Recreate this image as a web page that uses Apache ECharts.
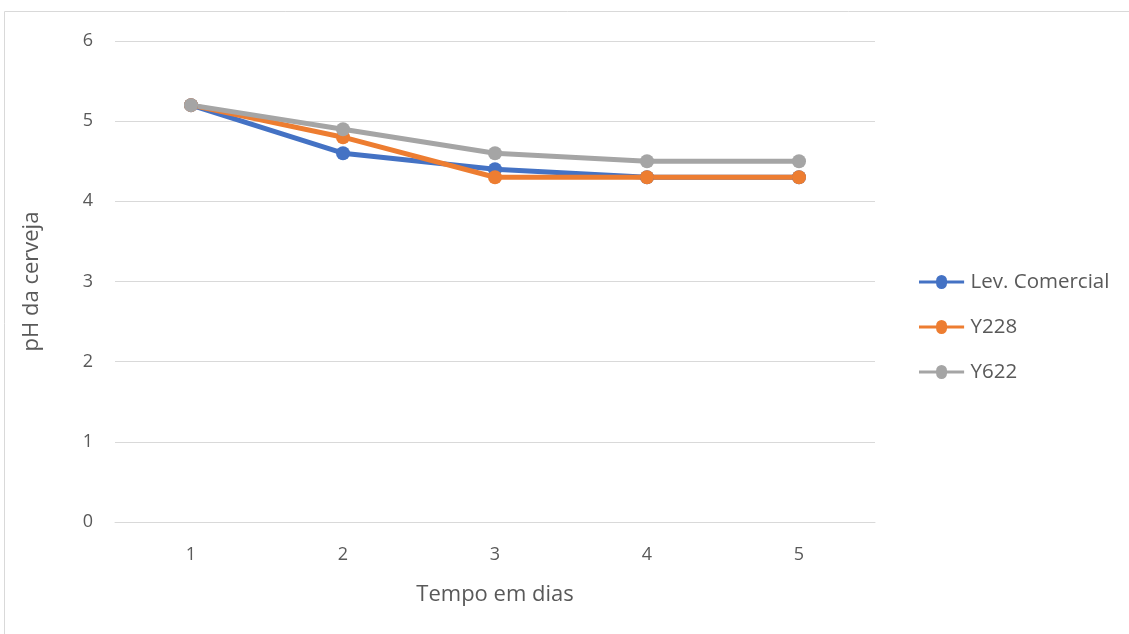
<!DOCTYPE html>
<html><head><meta charset="utf-8">
<script src="https://cdn.jsdelivr.net/npm/echarts@6/dist/echarts.min.js"></script>
<style>html,body{margin:0;padding:0;background:#fff}#c{width:1129px;height:634px}</style>
</head><body><div id="c"></div>
<script>
const categories = ['1','2','3','4','5'];
const levComercial = [5.2, 4.6, 4.4, 4.3, 4.3];
const y228 = [5.2, 4.8, 4.3, 4.3, 4.3];
const y622 = [5.2, 4.9, 4.6, 4.5, 4.5];
const seriesNames = ['Lev. Comercial', 'Y228', 'Y622'];
const colors = ['#4472C4', '#ED7D31', '#A5A5A5'];
const font = '"Open Sans", "Noto Sans", sans-serif';

const chart = echarts.init(document.getElementById('c'), null, {renderer: 'canvas'});
const mk = (name, data, i) => ({
  name, type: 'line', data,
  symbol: 'circle', symbolSize: 14,
  lineStyle: {width: 5, color: colors[i]},
  itemStyle: {color: colors[i]},
  animation: false
});
chart.setOption({
  animation: false,
  graphic: [{type: 'rect', shape: {x: 4.5, y: 11.5, width: 1130, height: 630}, style: {fill: 'none', stroke: '#d9d9d9', lineWidth: 1}, silent: true}],
  grid: {left: 115, right: 254, top: 41, bottom: 112},
  legend: {
    orient: 'vertical', left: 914, top: 266, itemGap: 23,
    itemWidth: 58, itemHeight: 14,
    textStyle: {fontSize: 20.5, lineHeight: 22, color: '#595959', fontFamily: font, padding: [0,0,0,-5]},
    data: seriesNames.map(n => ({name: n, icon: 'path://M0,5L22,5A7,7 0 1,1 36,5L58,5L58,9L36,9A7,7 0 1,1 22,9L0,9Z'}))
  },
  xAxis: {
    type: 'category', data: categories, boundaryGap: true,
    name: 'Tempo em dias', nameLocation: 'middle', nameGap: 62,
    nameTextStyle: {fontSize: 22, color: '#595959', fontFamily: font},
    axisLine: {show: true, lineStyle: {color: '#d9d9d9', width: 1}},
    axisTick: {show: false},
    axisLabel: {fontSize: 18, color: '#595959', fontFamily: font, margin: 24}
  },
  yAxis: {
    type: 'value', min: 0, max: 6, interval: 1,
    name: 'pH da cerveja', nameLocation: 'middle', nameGap: 72, nameRotate: 90,
    nameTextStyle: {fontSize: 22, color: '#595959', fontFamily: font},
    axisLine: {show: false}, axisTick: {show: false},
    splitLine: {lineStyle: {color: '#d9d9d9', width: 1}},
    axisLabel: {fontSize: 18, color: '#595959', fontFamily: font, margin: 22}
  },
  series: [mk(seriesNames[0], levComercial, 0), mk(seriesNames[1], y228, 1), mk(seriesNames[2], y622, 2)]
});
</script></body></html>
